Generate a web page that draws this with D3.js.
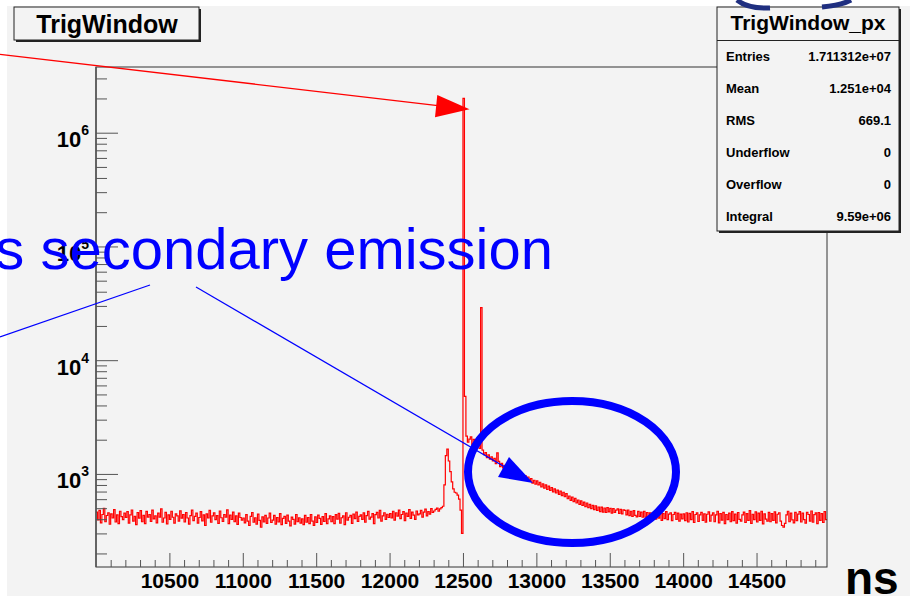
<!DOCTYPE html>
<html>
<head>
<meta charset="utf-8">
<title>TrigWindow</title>
<style>
  body { margin: 0; background: #ffffff; }
  svg text { font-family: "Liberation Sans", Arial, Helvetica, sans-serif; }
</style>
</head>
<body>
<script src="https://cdn.jsdelivr.net/npm/d3@7"></script>
<script type="text/javascript">

// histogram: 10 ns bins starting at 10000 ns
var binStart = 10000,
    binWidth = 10;

var counts = [
  // 10000 - 10990
  462,395,478,372,440,498,380,431,455,361,446,410,485,378,437,366,470,422,396,452,
  415,466,370,436,482,384,424,358,458,408,476,380,432,366,468,418,440,382,480,402,
  428,372,452,418,492,376,410,460,364,436,398,470,416,370,446,428,384,474,408,440,
  378,458,410,362,430,480,388,424,452,370,414,466,386,436,352,446,410,478,376,428,
  454,396,430,368,472,412,382,440,416,484,366,434,398,462,380,428,360,452,414,392,
  // 11000 - 11990
  410,372,438,384,352,424,458,376,412,362,444,390,340,420,378,432,368,410,452,374,
  392,432,362,414,378,448,358,406,424,368,434,384,350,418,398,362,440,380,412,370,
  402,358,432,376,414,366,440,384,352,420,374,434,406,360,422,382,448,366,402,428,
  380,422,366,438,400,450,370,412,428,358,456,392,416,432,368,444,404,462,382,424,
  436,398,454,376,430,468,400,418,448,366,438,460,410,478,384,428,456,398,442,414,
  // 12000 - 12990
  448,410,470,392,456,426,480,404,440,466,388,452,424,486,406,462,434,398,472,436,
  446,478,418,462,490,428,466,444,496,458,472,488,500,470,492,506,520,800,1450,1650,
  1300,1050,850,740,690,680,650,600,480,300,2000000,4800,2150,1900,2020,2120,1820,2010,1760,1940,
  1820,1680,29000,1620,1480,1540,1390,1470,1350,1410,1300,1370,1230,1530,1290,1160,1240,1130,1190,1100,
  1160,1060,1120,1020,1090,990,1060,950,1020,930,990,905,965,880,940,860,910,830,880,815,
  // 13000 - 13990
  870,800,845,770,820,750,800,730,780,715,760,695,740,680,720,660,705,645,690,630,
  670,605,640,585,625,570,610,555,590,540,580,530,565,515,555,505,540,495,530,485,
  525,478,512,466,510,462,502,458,506,464,498,452,496,460,480,492,450,488,446,484,
  478,436,482,430,470,424,476,432,420,468,424,462,416,470,418,458,410,456,412,452,
  450,400,462,408,454,390,448,404,466,396,444,456,388,440,460,398,452,384,444,402,
  // 14000 - 14970
  446,388,456,378,450,396,466,374,440,454,382,436,460,390,446,376,442,464,384,434,
  454,380,436,470,372,448,392,460,366,440,396,452,380,466,388,444,370,458,398,384,
  436,462,374,448,390,476,368,442,396,464,378,452,390,470,364,446,400,384,460,380,
  448,390,464,372,442,456,384,352,340,368,436,470,380,452,394,372,460,388,444,466,
  378,452,396,370,460,440,384,472,376,438,454,366,458,390,448,374,466,396
];

var xMajorTicks = [10500, 11000, 11500, 12000, 12500, 13000, 13500, 14000, 14500];
var xMinorTicks = d3.range(10100, 15000, 100).filter(function(v){ return v % 500 !== 0; });
var yDecades = [1e3, 1e4, 1e5, 1e6];
var yMinorTicks = [2e2,3e2,4e2,5e2,6e2,7e2,8e2,9e2,
                   2e3,3e3,4e3,5e3,6e3,7e3,8e3,9e3,
                   2e4,3e4,4e4,5e4,6e4,7e4,8e4,9e4,
                   2e5,3e5,4e5,5e5,6e5,7e5,8e5,9e5,
                   2e6,3e6];

var statsLabels = ["Entries", "Mean", "RMS", "Underflow", "Overflow", "Integral"];
var statsValues = ["1.711312e+07", "1.251e+04", "669.1", "0", "0", "9.59e+06"];

var W = 910, H = 596;
var frame = {left: 96, top: 67, right: 827, bottom: 567};
var bg = "#f3f3f3";

var x = d3.scaleLinear().domain([10000, 14980]).range([frame.left, frame.right]);
var y = d3.scaleLog().domain([152, 3.78e6]).range([frame.bottom, frame.top]);

var svg = d3.select("body").append("svg")
    .attr("width", W)
    .attr("height", H);

// canvas
svg.append("rect")
    .attr("x", 7).attr("y", 6)
    .attr("width", W - 7).attr("height", H - 6)
    .style("fill", bg);

svg.append("defs").append("clipPath")
    .attr("id", "plotclip")
  .append("rect")
    .attr("x", frame.left).attr("y", frame.top)
    .attr("width", frame.right - frame.left)
    .attr("height", frame.bottom - frame.top);

// histogram as steps
var pts = counts.map(function(c, i){ return [binStart + i * binWidth, c]; });
pts.push([binStart + counts.length * binWidth, counts[counts.length - 1]]);

var line = d3.line()
    .x(function(d){ return x(d[0]); })
    .y(function(d){ return y(d[1]); })
    .curve(d3.curveStepAfter);

svg.append("path")
    .datum(pts)
    .attr("clip-path", "url(#plotclip)")
    .attr("d", line)
    .style("fill", "none")
    .style("stroke", "#ff0000")
    .style("stroke-width", "1.2px");

// frame
svg.append("rect")
    .attr("x", frame.left).attr("y", frame.top)
    .attr("width", frame.right - frame.left)
    .attr("height", frame.bottom - frame.top)
    .style("fill", "none")
    .style("stroke", "#333")
    .style("stroke-width", "1px");

// x axis
var xAxisG = svg.append("g")
    .attr("transform", "translate(0," + frame.bottom + ")");

xAxisG.append("g")
    .call(d3.axisBottom(x).tickValues(xMinorTicks).tickSize(-7).tickSizeOuter(0).tickFormat(""))
    .call(function(g){ g.select(".domain").remove(); });

xAxisG.append("g")
    .call(d3.axisBottom(x).tickValues(xMajorTicks).tickSize(-14).tickSizeOuter(0).tickPadding(6)
          .tickFormat(d3.format("d")))
    .call(function(g){ g.select(".domain").remove(); })
    .selectAll("text")
    .style("font-size", "21px")
    .style("font-weight", "bold")
    .style("fill", "#000");

xAxisG.selectAll(".tick line").style("stroke", "#555");

// y axis
var yAxisG = svg.append("g")
    .attr("transform", "translate(" + frame.left + ",0)");

yAxisG.append("g")
    .call(d3.axisLeft(y).tickValues(yMinorTicks).tickSize(-11).tickSizeOuter(0).tickFormat(""))
    .call(function(g){ g.select(".domain").remove(); });

var yMajor = yAxisG.append("g")
    .call(d3.axisLeft(y).tickValues(yDecades).tickSize(-22).tickSizeOuter(0).tickPadding(7)
          .tickFormat(""))
    .call(function(g){ g.select(".domain").remove(); });

yAxisG.selectAll(".tick line").style("stroke", "#555");

yMajor.selectAll(".tick text")
    .attr("dy", null)
    .attr("y", 14)
    .style("fill", "#000")
    .style("font-weight", "bold")
    .each(function(d){
        var t = d3.select(this);
        t.append("tspan").style("font-size", "22px").text("10");
        t.append("tspan").style("font-size", "14px").attr("dy", -12)
            .text(Math.round(Math.log10(d)));
    });

svg.append("line")
    .attr("x1", frame.left).attr("x2", frame.left)
    .attr("y1", frame.top).attr("y2", frame.bottom)
    .style("stroke", "#555").style("stroke-width", "1.5px");

// "ns" axis title
svg.append("text")
    .attr("x", 845).attr("y", 594)
    .style("font-size", "46px")
    .style("font-weight", "bold")
    .style("fill", "#000")
    .text("ns");

// title pave with shadow
function pave(x0, y0, w, h) {
    svg.append("rect")
        .attr("x", x0 + 2).attr("y", y0 + 2)
        .attr("width", w).attr("height", h)
        .style("fill", "#222");
    svg.append("rect")
        .attr("x", x0).attr("y", y0)
        .attr("width", w).attr("height", h)
        .style("fill", bg)
        .style("stroke", "#222")
        .style("stroke-width", "1px");
}

pave(14, 7, 185, 33);
svg.append("text")
    .attr("x", 107).attr("y", 33)
    .attr("text-anchor", "middle")
    .style("font-size", "25px")
    .style("font-weight", "bold")
    .text("TrigWindow");

// stats box
pave(717, 7, 182, 224);
svg.append("line")
    .attr("x1", 717).attr("x2", 899)
    .attr("y1", 40.5).attr("y2", 40.5)
    .style("stroke", "#222");
svg.append("text")
    .attr("x", 808).attr("y", 30)
    .attr("text-anchor", "middle")
    .style("font-size", "21px")
    .style("font-weight", "bold")
    .text("TrigWindow_px");

var rows = svg.selectAll(".statrow")
    .data(statsLabels)
    .enter().append("g")
    .attr("class", "statrow")
    .attr("transform", function(d, i){ return "translate(0," + (61 + i * 31.9) + ")"; });

rows.append("text")
    .attr("x", 726)
    .style("font-size", "13px")
    .style("font-weight", "bold")
    .text(function(d){ return d; });

rows.append("text")
    .attr("x", 891)
    .attr("text-anchor", "end")
    .style("font-size", "13px")
    .style("font-weight", "bold")
    .text(function(d, i){ return statsValues[i]; });

// top-right logo fragment
svg.append("path")
    .attr("d", "M737,0 Q748,9 770,8")
    .style("fill", "none").style("stroke", "#1f2f80").style("stroke-width", "5px");
svg.append("path")
    .attr("d", "M822,7 Q842,5 851,0")
    .style("fill", "none").style("stroke", "#1f2f80").style("stroke-width", "5px");

// red arrow to the main peak
svg.append("line")
    .attr("x1", 0).attr("y1", 54.3)
    .attr("x2", 440).attr("y2", 105.8)
    .style("stroke", "#ff0000").style("stroke-width", "1.3px");
svg.append("polygon")
    .attr("points", "469.5,109.3 437.3,95 435,117.3")
    .style("fill", "#ff0000");

// blue annotation
svg.append("text")
    .attr("x", 553).attr("y", 269)
    .attr("text-anchor", "end")
    .style("font-size", "58px")
    .style("fill", "#0000ff")
    .text("s secondary emission");

svg.append("line")
    .attr("x1", 150).attr("y1", 285)
    .attr("x2", 0).attr("y2", 337)
    .style("stroke", "#0000ff").style("stroke-width", "1.2px");
svg.append("line")
    .attr("x1", 196).attr("y1", 287)
    .attr("x2", 510).attr("y2", 470)
    .style("stroke", "#0000ff").style("stroke-width", "1.2px");
svg.append("polygon")
    .attr("points", "533,483 509,457 498,477")
    .style("fill", "#0000ff");

svg.append("ellipse")
    .attr("cx", 572).attr("cy", 472)
    .attr("rx", 104).attr("ry", 71)
    .style("fill", "none")
    .style("stroke", "#0000ff")
    .style("stroke-width", "8px");

</script>
</body>
</html>
